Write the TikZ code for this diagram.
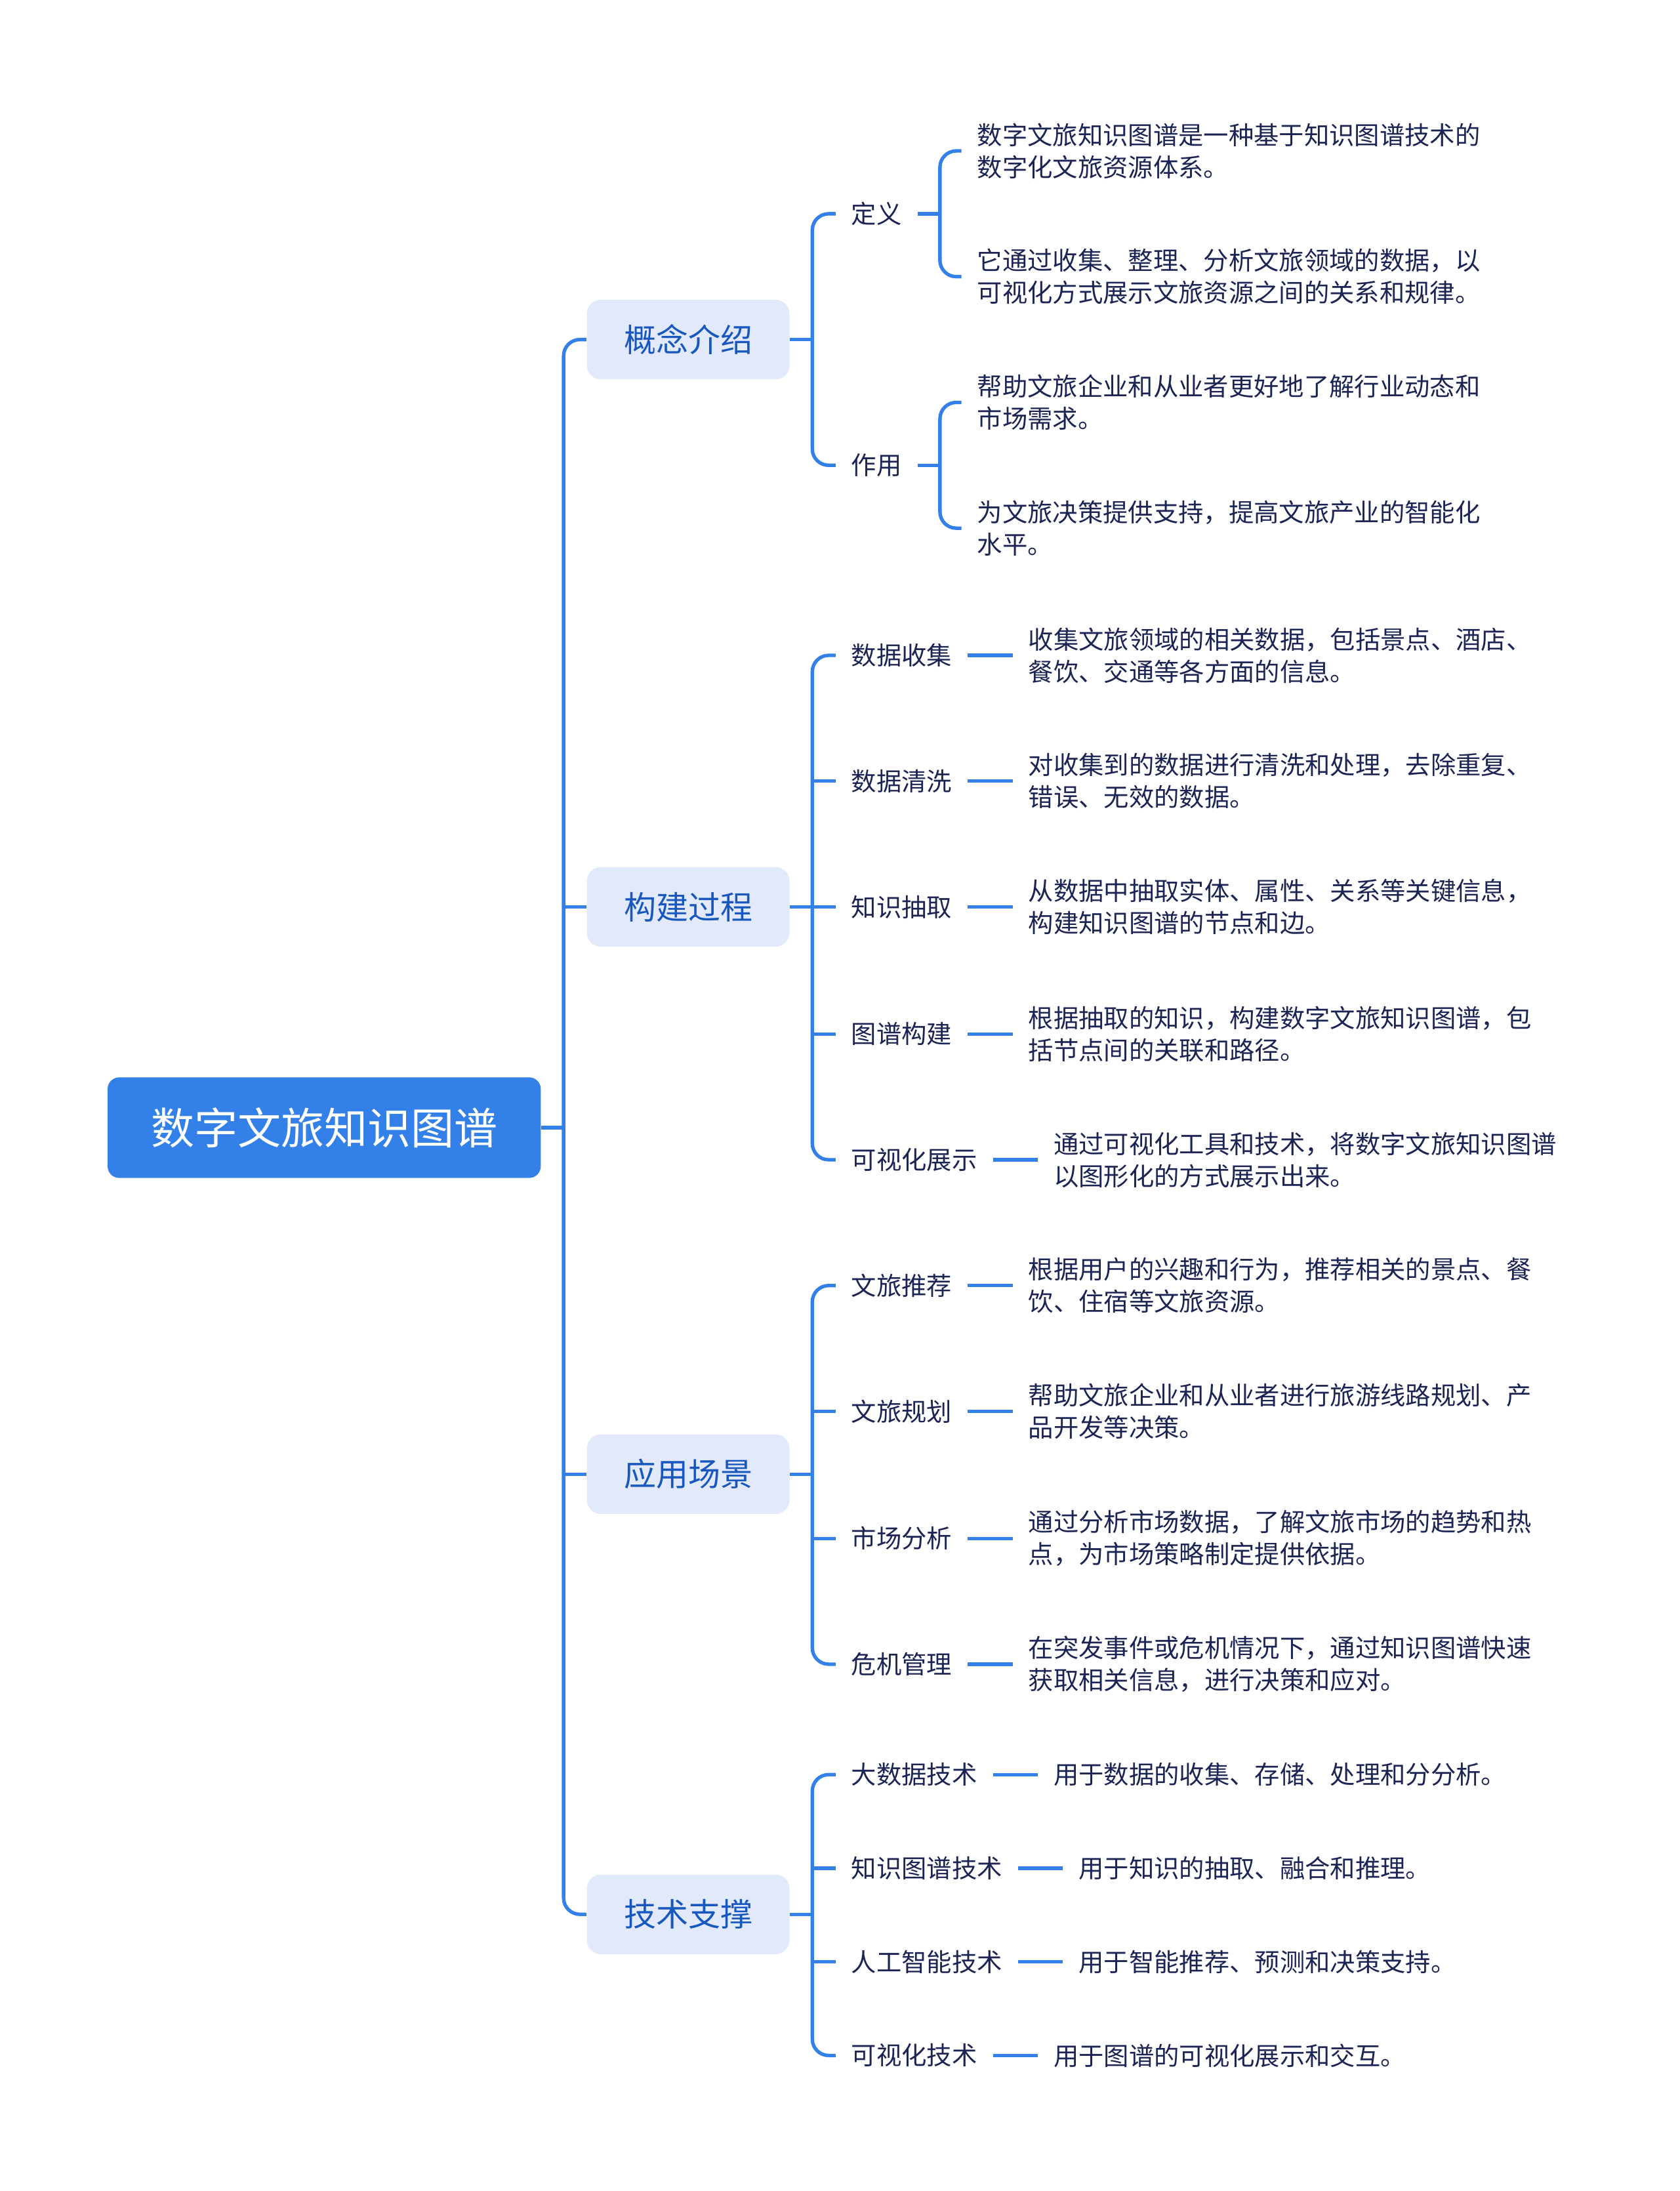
\documentclass[tikz,border=0pt]{standalone}
\usepackage{fontspec}
\newfontfamily\cjk{Noto Sans CJK SC}
\usetikzlibrary{positioning,calc}

\definecolor{linkblue}{RGB}{51,128,232}
\definecolor{topicfill}{RGB}{225,233,251}
\definecolor{topictext}{RGB}{24,88,190}
\definecolor{leaftext}{RGB}{28,36,84}

\tikzset{
  conn/.style={draw=linkblue, line width=1.5pt, rounded corners=7pt},
  rootbox/.style={fill=linkblue, rounded corners=5pt, minimum width=186pt, minimum height=43.2pt,
    font=\cjk\fontsize{18.6}{22}\selectfont, text=white},
  topic/.style={fill=topicfill, rounded corners=6pt, minimum width=87pt, minimum height=34.2pt,
    font=\cjk\fontsize{13.8}{16}\selectfont, text=topictext},
  sub/.style={anchor=west, inner xsep=6.6pt, inner ysep=2pt,
    font=\cjk\fontsize{10.8}{13.8}\selectfont, text=leaftext},
  leaf/.style={sub, align=left},
}

\begin{document}
\begin{tikzpicture}[x=0.6pt, y=-0.6pt]
    \useasboundingbox (0,0) rectangle (1202,1568);

    % Root
    \node[rootbox] (root) at (232,807) {数字文旅知识图谱};

    % Main topics
    \node[topic] (gnjs) at (492.5,243) {概念介绍};
    \node[topic] (gjgc) at (492.5,649) {构建过程};
    \node[topic] (yycj) at (492.5,1055) {应用场景};
    \node[topic] (jszc) at (492.5,1370) {技术支撑};

    % Sub topics
    \node[sub] (dy) at (598,153) {定义};
    \node[sub] (zy) at (598,333) {作用};
    \node[sub] (sjsj) at (598,469) {数据收集};
    \node[sub] (sjqx) at (598,559) {数据清洗};
    \node[sub] (zscq) at (598,649) {知识抽取};
    \node[sub] (tpgj) at (598,740) {图谱构建};
    \node[sub] (kszs) at (598,830) {可视化展示};
    \node[sub] (wltj) at (598,920) {文旅推荐};
    \node[sub] (wlgh) at (598,1010) {文旅规划};
    \node[sub] (scfx) at (598,1101) {市场分析};
    \node[sub] (wjgl) at (598,1191) {危机管理};
    \node[sub] (dsj) at (598,1270) {大数据技术};
    \node[sub] (zstp) at (598,1337) {知识图谱技术};
    \node[sub] (rgzn) at (598,1404) {人工智能技术};
    \node[sub] (ksjs) at (598,1471) {可视化技术};

    % Leaves
    \node[leaf] (dy1) at (688,108) {数字文旅知识图谱是一种基于知识图谱技术的\\数字化文旅资源体系。};
    \node[leaf] (dy2) at (688,198) {它通过收集、整理、分析文旅领域的数据，以\\可视化方式展示文旅资源之间的关系和规律。};
    \node[leaf] (zy1) at (688,288) {帮助文旅企业和从业者更好地了解行业动态和\\市场需求。};
    \node[leaf] (zy2) at (688,378) {为文旅决策提供支持，提高文旅产业的智能化\\水平。};
    \node[leaf, right=19.2pt of sjsj] (sjsj1) {收集文旅领域的相关数据，包括景点、酒店、\\餐饮、交通等各方面的信息。};
    \node[leaf, right=19.2pt of sjqx] (sjqx1) {对收集到的数据进行清洗和处理，去除重复、\\错误、无效的数据。};
    \node[leaf, right=19.2pt of zscq] (zscq1) {从数据中抽取实体、属性、关系等关键信息，\\构建知识图谱的节点和边。};
    \node[leaf, right=19.2pt of tpgj] (tpgj1) {根据抽取的知识，构建数字文旅知识图谱，包\\括节点间的关联和路径。};
    \node[leaf, right=19.2pt of kszs] (kszs1) {通过可视化工具和技术，将数字文旅知识图谱\\以图形化的方式展示出来。};
    \node[leaf, right=19.2pt of wltj] (wltj1) {根据用户的兴趣和行为，推荐相关的景点、餐\\饮、住宿等文旅资源。};
    \node[leaf, right=19.2pt of wlgh] (wlgh1) {帮助文旅企业和从业者进行旅游线路规划、产\\品开发等决策。};
    \node[leaf, right=19.2pt of scfx] (scfx1) {通过分析市场数据，了解文旅市场的趋势和热\\点，为市场策略制定提供依据。};
    \node[leaf, right=19.2pt of wjgl] (wjgl1) {在突发事件或危机情况下，通过知识图谱快速\\获取相关信息，进行决策和应对。};
    \node[leaf, right=19.2pt of dsj] (dsj1) {用于数据的收集、存储、处理和分分析。};
    \node[leaf, right=19.2pt of zstp] (zstp1) {用于知识的抽取、融合和推理。};
    \node[leaf, right=19.2pt of rgzn] (rgzn1) {用于智能推荐、预测和决策支持。};
    \node[leaf, right=19.2pt of ksjs] (ksjs1) {用于图谱的可视化展示和交互。};

    % Trunk
    \coordinate (rb) at ($(root.east)+(16,0)$);
    \draw[conn] (root.east) -- (rb);
    \draw[conn] (gnjs.west) -| (rb) |- (jszc.west);
    \foreach \n in {gjgc,yycj} \draw[conn] (rb |- \n.west) -- (\n.west);

    % Brackets of the main topics
    \coordinate (gb) at ($(gnjs.east)+(16,0)$);
    \draw[conn] (gnjs.east) -- (gb);
    \draw[conn] (dy.west) -| (gb) |- (zy.west);

    \coordinate (cb) at ($(gjgc.east)+(16,0)$);
    \draw[conn] (gjgc.east) -- (cb);
    \draw[conn] (sjsj.west) -| (cb) |- (kszs.west);
    \foreach \n in {sjqx,zscq,tpgj} \draw[conn] (cb |- \n.west) -- (\n.west);

    \coordinate (yb) at ($(yycj.east)+(16,0)$);
    \draw[conn] (yycj.east) -- (yb);
    \draw[conn] (wltj.west) -| (yb) |- (wjgl.west);
    \foreach \n in {wlgh,scfx} \draw[conn] (yb |- \n.west) -- (\n.west);

    \coordinate (jb) at ($(jszc.east)+(16,0)$);
    \draw[conn] (jszc.east) -- (jb);
    \draw[conn] (dsj.west) -| (jb) |- (ksjs.west);
    \foreach \n in {zstp,rgzn} \draw[conn] (jb |- \n.west) -- (\n.west);

    % Brackets of the sub topics
    \coordinate (db) at ($(dy.east)+(16,0)$);
    \draw[conn] (dy.east) -- (db);
    \draw[conn] (dy1.west) -| (db) |- (dy2.west);

    \coordinate (zb) at ($(zy.east)+(16,0)$);
    \draw[conn] (zy.east) -- (zb);
    \draw[conn] (zy1.west) -| (zb) |- (zy2.west);

    % Single leaves
    \foreach \n in {sjsj,sjqx,zscq,tpgj,kszs,wltj,wlgh,scfx,wjgl,dsj,zstp,rgzn,ksjs}
        \draw[conn] (\n.east) -- (\n1.west);
\end{tikzpicture}
\end{document}
